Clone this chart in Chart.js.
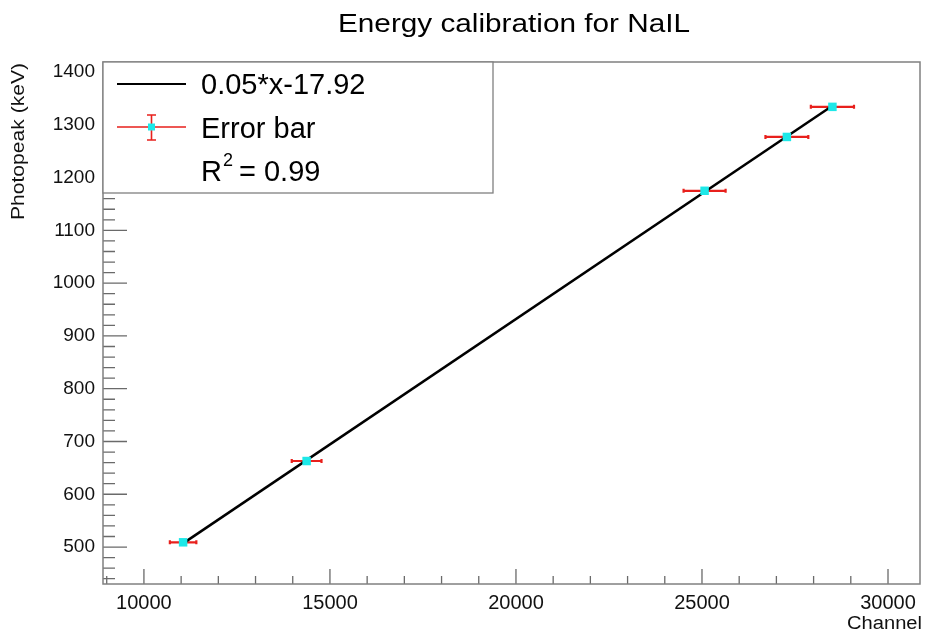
<!DOCTYPE html>
<html>
<head>
<meta charset="utf-8">
<script src="https://cdn.jsdelivr.net/npm/chart.js@4.4.1/dist/chart.umd.min.js"></script>
<style>
  html, body { margin: 0; padding: 0; background: #fff; }
  #wrap { width: 926px; height: 637px; }
</style>
</head>
<body>
<div id="wrap"><canvas id="MiGrafica" width="926" height="637"></canvas></div>
<script>
// data
var channel = [11053, 14373, 25070, 27282, 28506];
var energy = [509, 663, 1175, 1277, 1334];
var channelErr = [356, 400, 565, 576, 580];
var fitX = [11053, 28506];
var fitY = [507, 1336];

var xTicks = [10000, 15000, 20000, 25000, 30000];
var yTicks = [500, 600, 700, 800, 900, 1000, 1100, 1200, 1300, 1400];

var titulo = 'Energy calibration for NaIL';
var tituloX = 'Channel';
var tituloY = 'Photopeak (keV)';
var leyendaFit = '0.05*x-17.92';
var leyendaErr = 'Error bar';
var leyendaR2 = '0.99';

var FONT = '"Liberation Sans", Arial, sans-serif';
var gris = '#808080';

var puntos = channel.map(function (c, i) { return { x: c, y: energy[i] }; });
var recta = fitX.map(function (c, i) { return { x: c, y: fitY[i] }; });

// texto estirado a un ancho dado (ROOT lo estira un poco)
function textoAncho(ctx, txt, x, y, ancho) {
    var w = ctx.measureText(txt).width;
    ctx.save();
    ctx.translate(x, y);
    ctx.scale(ancho / w, 1);
    ctx.textAlign = 'left';
    ctx.fillText(txt, 0, 0);
    ctx.restore();
}

// ROOT style: frame, ticks inside, error bars, title and legend
var rootPlugin = {
    id: 'rootStyle',
    beforeDatasetsDraw: function (chart) {
        var ctx = chart.ctx;
        var xs = chart.scales.x, ys = chart.scales.y;
        ctx.save();
        // error bars
        ctx.strokeStyle = '#e8201c';
        ctx.lineWidth = 2.2;
        for (var i = 0; i < channel.length; i++) {
            var x1 = xs.getPixelForValue(channel[i] - channelErr[i]);
            var x2 = xs.getPixelForValue(channel[i] + channelErr[i]);
            var y = ys.getPixelForValue(energy[i]);
            ctx.beginPath();
            ctx.moveTo(x1, y); ctx.lineTo(x2, y);
            ctx.moveTo(x1, y - 2); ctx.lineTo(x1, y + 2);
            ctx.moveTo(x2, y - 2); ctx.lineTo(x2, y + 2);
            ctx.stroke();
        }
        ctx.restore();
    },
    afterDraw: function (chart) {
        var ctx = chart.ctx;
        var a = chart.chartArea;
        var xs = chart.scales.x, ys = chart.scales.y;
        ctx.save();

        // ticks
        ctx.strokeStyle = '#6a6a6a';
        ctx.lineWidth = 1.3;
        ctx.beginPath();
        for (var v = 9000; v <= xs.max; v += 1000) {
            var px = xs.getPixelForValue(v);
            var len = (v % 5000 === 0) ? 15 : 8;
            ctx.moveTo(px, a.bottom); ctx.lineTo(px, a.bottom - len);
        }
        for (var w = 440; w <= ys.max; w += 20) {
            var py = ys.getPixelForValue(w);
            var l2 = (w % 100 === 0) ? 24 : 12;
            ctx.moveTo(a.left, py); ctx.lineTo(a.left + l2, py);
        }
        ctx.stroke();

        // frame
        ctx.strokeStyle = gris;
        ctx.lineWidth = 1.5;
        ctx.strokeRect(a.left, a.top, a.right - a.left, a.bottom - a.top);

        // title
        ctx.fillStyle = '#000';
        ctx.font = '25px ' + FONT;
        ctx.textBaseline = 'alphabetic';
        textoAncho(ctx, titulo, 338, 32, 352);

        // axis titles
        ctx.font = '18px ' + FONT;
        ctx.fillStyle = '#111';
        textoAncho(ctx, tituloX, 847, 629, 75);
        ctx.save();
        ctx.translate(24, 220);
        ctx.rotate(-Math.PI / 2);
        textoAncho(ctx, tituloY, 0, 0, 157);
        ctx.restore();

        // legend box
        var bx = a.left, by = a.top, bw = 493 - a.left, bh = 193 - a.top;
        ctx.fillStyle = '#fff';
        ctx.fillRect(bx, by, bw, bh);
        ctx.strokeStyle = gris;
        ctx.lineWidth = 1.3;
        ctx.strokeRect(bx, by, bw, bh);

        // fit line entry
        ctx.strokeStyle = '#000';
        ctx.lineWidth = 2;
        ctx.beginPath();
        ctx.moveTo(117, 84); ctx.lineTo(186, 84);
        ctx.stroke();

        // error bar entry
        ctx.strokeStyle = '#e8201c';
        ctx.lineWidth = 1.6;
        ctx.beginPath();
        ctx.moveTo(117, 127); ctx.lineTo(186, 127);
        ctx.moveTo(151.5, 115); ctx.lineTo(151.5, 140);
        ctx.moveTo(147, 115); ctx.lineTo(156, 115);
        ctx.moveTo(147, 140); ctx.lineTo(156, 140);
        ctx.stroke();
        ctx.fillStyle = '#1ee8e8';
        ctx.fillRect(148, 123.5, 7, 7);

        ctx.fillStyle = '#000';
        ctx.textAlign = 'left';
        ctx.font = '29px ' + FONT;
        ctx.fillText(leyendaFit, 201, 94);
        ctx.fillText(leyendaErr, 201, 138);
        ctx.fillText('R', 201, 181);
        var rw = ctx.measureText('R').width;
        ctx.font = '18px ' + FONT;
        ctx.fillText('2', 201 + rw + 1, 166);
        ctx.font = '29px ' + FONT;
        ctx.fillText(' = ' + leyendaR2, 201 + rw + 9, 181);

        ctx.restore();
    }
};

var ctx = document.getElementById('MiGrafica').getContext('2d');
var myChart = new Chart(ctx, {
    type: 'scatter',
    data: {
        datasets: [{
            label: leyendaErr,
            data: puntos,
            pointStyle: 'rect',
            pointRadius: 6,
            pointBackgroundColor: '#1ee8e8',
            pointBorderWidth: 0,
            showLine: false,
            order: 1
        }, {
            label: leyendaFit,
            data: recta,
            showLine: true,
            borderColor: '#000',
            borderWidth: 2.5,
            pointRadius: 0,
            order: 2
        }]
    },
    options: {
        responsive: false,
        animation: false,
        layout: { padding: { top: 62, right: 3, left: 0, bottom: 0 } },
        plugins: {
            legend: { display: false },
            title: { display: false },
            tooltip: { enabled: false }
        },
        scales: {
            x: {
                type: 'linear',
                min: 8900,
                max: 30860,
                grid: { display: false, drawTicks: false },
                border: { display: false },
                afterBuildTicks: function (s) { s.ticks = xTicks.map(function (v) { return { value: v }; }); },
                afterFit: function (s) { s.height = 53; },
                ticks: {
                    padding: 7,
                    color: '#111',
                    font: { family: FONT, size: 20 },
                    maxRotation: 0,
                    callback: function (v) { return String(v); }
                }
            },
            y: {
                type: 'linear',
                min: 430,
                max: 1419,
                grid: { display: false, drawTicks: false },
                border: { display: false },
                afterBuildTicks: function (s) { s.ticks = yTicks.map(function (v) { return { value: v }; }); },
                afterFit: function (s) { s.width = 103; },
                ticks: {
                    padding: 8,
                    color: '#111',
                    font: { family: FONT, size: 19 },
                    callback: function (v) { return String(v); }
                }
            }
        }
    },
    plugins: [rootPlugin]
});
</script>
</body>
</html>
